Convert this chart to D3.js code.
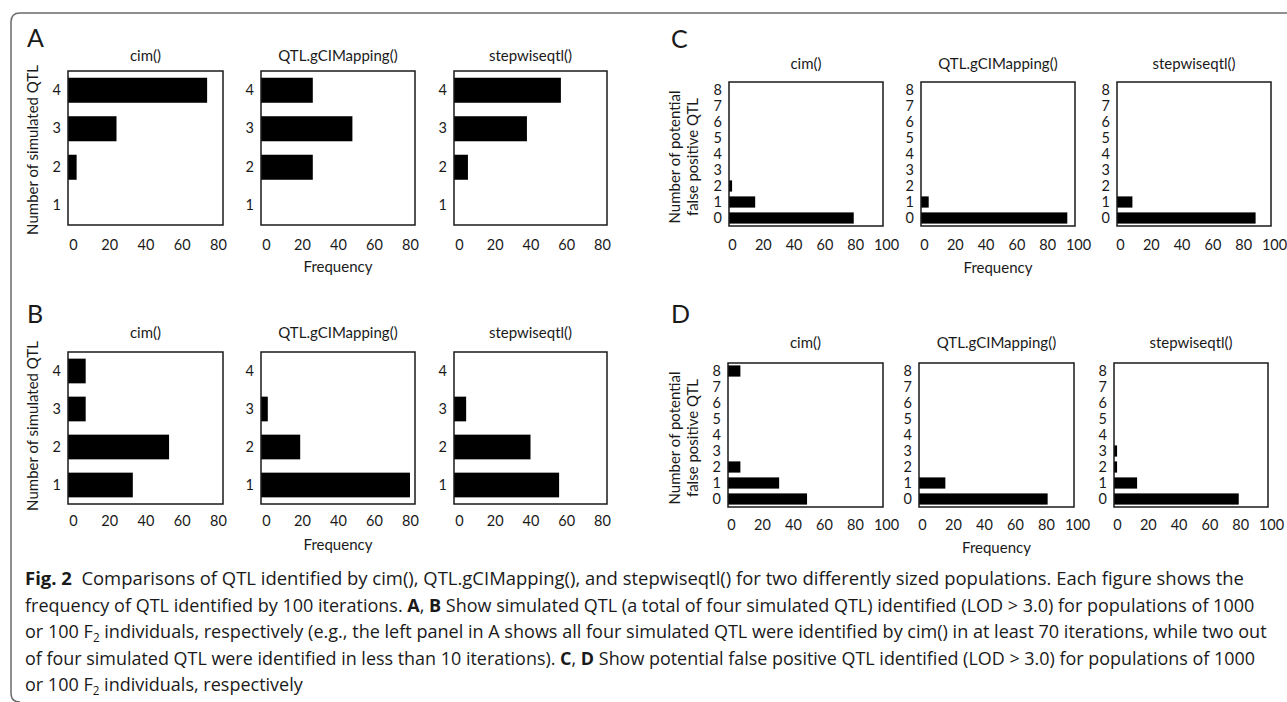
<!DOCTYPE html>
<html>
<head>
<meta charset="utf-8">
<script src="https://cdn.jsdelivr.net/npm/d3@7"></script>
<style>
  body { margin: 0; background: #fff; }
  svg { display: block; }
  text { font-family: Lato, "Open Sans", sans-serif; fill: #1a1a1a; }
</style>
</head>
<body>
<svg id="fig" width="1287" height="702"></svg>
<script>
// methods compared in every panel
const methods = ["cim()", "QTL.gCIMapping()", "stepwiseqtl()"];

// A / B: number of simulated QTL identified (top to bottom)
const simCats = ["4", "3", "2", "1"];
const simTicks = [0, 20, 40, 60, 80];
const aCim = [74, 24, 2, 0];
const aGcim = [26, 48, 26, 0];
const aStep = [57, 38, 5, 0];
const bCim = [7, 7, 53, 33];
const bGcim = [0, 1, 19, 80];
const bStep = [0, 4, 40, 56];

// C / D: number of potential false positive QTL (top to bottom)
const fpCats = ["8", "7", "6", "5", "4", "3", "2", "1", "0"];
const fpTicks = [0, 20, 40, 60, 80, 100];
const cCim = [0, 0, 0, 0, 0, 0, 2, 17, 81];
const cGcim = [0, 0, 0, 0, 0, 0, 0, 5, 95];
const cStep = [0, 0, 0, 0, 0, 0, 0, 10, 90];
const dCim = [8, 0, 0, 0, 0, 0, 8, 33, 51];
const dGcim = [0, 0, 0, 0, 0, 0, 0, 17, 83];
const dStep = [0, 0, 0, 0, 0, 2, 2, 15, 81];

const svg = d3.select("#fig");

// outer frame with rounded left corners
svg.append("path")
  .attr("d", "M1287,13 H20 Q11,13 11,22 V693 Q11,702 20,702")
  .attr("fill", "none")
  .attr("stroke", "#6b6b6b")
  .attr("stroke-width", 1.5);

// one row of three small bar charts
function drawRow(row) {
  svg.append("text")
    .attr("x", row.letterX).attr("y", row.letterY)
    .attr("font-size", 25)
    .text(row.letter);

  row.boxes.forEach((box, i) => {
    const y = d3.scaleBand()
      .domain(row.cats)
      .range([row.y0, row.y1])
      .paddingInner(row.pad)
      .paddingOuter(row.pad / 2);
    const x = d3.scaleLinear()
      .domain([0, d3.max(row.ticks)])
      .range([box[0] + row.inset, box[1] - row.inset]);

    svg.append("text")
      .attr("x", (box[0] + box[1]) / 2).attr("y", row.titleY)
      .attr("text-anchor", "middle").attr("dy", "0.35em")
      .attr("font-size", 15)
      .text(methods[i]);

    let data = row.cats.map((c, k) => ({ c: c, v: row.values[i][k] }))
      .filter(d => d.v > 0);
    svg.append("g").selectAll("rect")
      .data(data)
      .join("rect")
      .attr("x", box[0])
      .attr("y", d => y(d.c))
      .attr("width", d => x(d.v) - box[0])
      .attr("height", y.bandwidth())
      .attr("fill", "#000");

    svg.append("rect")
      .attr("x", box[0]).attr("y", row.y0)
      .attr("width", box[1] - box[0]).attr("height", row.y1 - row.y0)
      .attr("fill", "none")
      .attr("stroke", "#1a1a1a")
      .attr("stroke-width", 1.5);

    let xAxis = svg.append("g")
      .attr("transform", `translate(${row.labelShift},${row.tickY})`)
      .call(d3.axisBottom(x).tickValues(row.ticks).tickSize(0).tickPadding(0));
    xAxis.select(".domain").remove();
    xAxis.selectAll("text")
      .attr("y", 0).attr("dy", "0.35em")
      .attr("font-size", 14.5).attr("fill", "#1a1a1a")
      .style("font-family", "Lato, 'Open Sans', sans-serif");

    let yAxis = svg.append("g")
      .attr("transform", `translate(${box[0] - 7},0)`)
      .call(d3.axisLeft(y).tickSize(0).tickPadding(0));
    yAxis.select(".domain").remove();
    yAxis.selectAll("text")
      .attr("font-size", 14.5).attr("fill", "#1a1a1a")
      .style("font-family", "Lato, 'Open Sans', sans-serif");
  });

  svg.append("text")
    .attr("x", (row.boxes[1][0] + row.boxes[1][1]) / 2).attr("y", row.freqY)
    .attr("text-anchor", "middle").attr("dy", "0.35em")
    .attr("font-size", 15)
    .text("Frequency");

  // rotated y title, one or two lines
  row.yTitle.forEach((line, k) => {
    svg.append("text")
      .attr("transform", `translate(${row.yTitleX[k]},${row.yTitleY}) rotate(-90)`)
      .attr("text-anchor", "middle").attr("dy", "0.35em")
      .attr("font-size", 15)
      .text(line);
  });
}

const leftBoxes = [[68, 223], [261, 415], [454, 607]];

drawRow({
  letter: "A", letterX: 27, letterY: 47,
  cats: simCats, ticks: simTicks, values: [aCim, aGcim, aStep],
  boxes: leftBoxes, y0: 71, y1: 225, pad: 0.35, inset: 5, labelShift: 0,
  titleY: 56, tickY: 245, freqY: 267,
  yTitle: ["Number of simulated QTL"], yTitleX: [33], yTitleY: 150
});

drawRow({
  letter: "B", letterX: 27, letterY: 323,
  cats: simCats, ticks: simTicks, values: [bCim, bGcim, bStep],
  boxes: leftBoxes, y0: 352, y1: 504, pad: 0.35, inset: 5, labelShift: 0,
  titleY: 333, tickY: 521, freqY: 545,
  yTitle: ["Number of simulated QTL"], yTitleX: [33], yTitleY: 426
});

drawRow({
  letter: "C", letterX: 671, letterY: 48,
  cats: fpCats, ticks: fpTicks, values: [cCim, cGcim, cStep],
  boxes: [[729, 883], [921, 1075], [1117, 1271]], y0: 82, y1: 226, pad: 0.3, inset: 0, labelShift: 3,
  titleY: 64, tickY: 245, freqY: 268,
  yTitle: ["Number of potential", "false positive QTL"], yTitleX: [675, 693], yTitleY: 157
});

drawRow({
  letter: "D", letterX: 671, letterY: 323,
  cats: fpCats, ticks: fpTicks, values: [dCim, dGcim, dStep],
  boxes: [[728, 883], [919, 1074], [1114, 1268]], y0: 363, y1: 507, pad: 0.3, inset: 0, labelShift: 3,
  titleY: 343, tickY: 525, freqY: 548,
  yTitle: ["Number of potential", "false positive QTL"], yTitleX: [675, 693], yTitleY: 438
});

// caption, squeezed horizontally to the condensed widths of the original
const captionLines = [
  { w: 1220, parts: [["Fig. 2", "b"], ["  Comparisons of QTL identified by cim(), QTL.gCIMapping(), and stepwiseqtl() for two differently sized populations. Each figure shows the"]] },
  { w: 1230, parts: [["frequency of QTL identified by 100 iterations. "], ["A", "b"], [", "], ["B", "b"], [" Show simulated QTL (a total of four simulated QTL) identified (LOD > 3.0) for populations of 1000"]] },
  { w: 1243, parts: [["or 100 F"], ["2", "s"], [" individuals, respectively (e.g., the left panel in A shows all four simulated QTL were identified by cim() in at least 70 iterations, while two out"]] },
  { w: 1230, parts: [["of four simulated QTL were identified in less than 10 iterations). "], ["C", "b"], [", "], ["D", "b"], [" Show potential false positive QTL identified (LOD > 3.0) for populations of 1000"]] },
  { w: 278, parts: [["or 100 F"], ["2", "s"], [" individuals, respectively"]] }
];

captionLines.forEach((line, i) => {
  let t = svg.append("text")
    .attr("x", 0).attr("y", 0)
    .attr("font-size", 18.5)
    .style("font-family", "'Open Sans', sans-serif")
    .attr("xml:space", "preserve");
  line.parts.forEach((p, k) => {
    let s = t.append("tspan").text(p[0]);
    if (p[1] === "b") s.attr("font-weight", "bold");
    if (p[1] === "s") s.attr("font-size", 12).attr("dy", 4);
    if (k > 0 && line.parts[k - 1][1] === "s") s.attr("dy", -4);
  });
  let natural = t.node().getComputedTextLength();
  t.attr("transform", `translate(25,${585 + i * 26.5}) scale(${line.w / natural},1)`);
});
</script>
</body>
</html>
